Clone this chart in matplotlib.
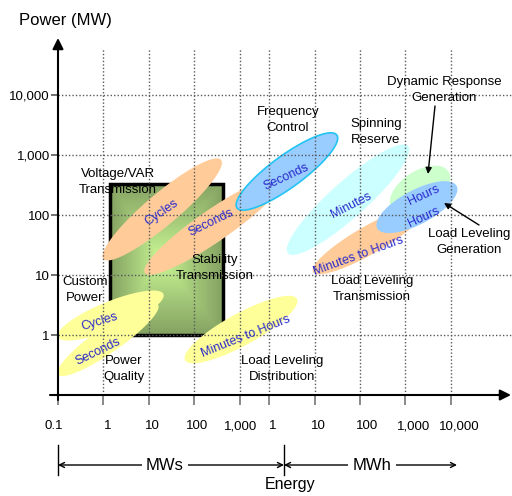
import numpy as np
import matplotlib
matplotlib.use("Agg")
import matplotlib.pyplot as plt
from matplotlib.patches import Polygon, Rectangle
import matplotlib.transforms as mtransforms

plt.rcParams['font.family'] = ['Liberation Sans', 'DejaVu Sans']

# ---------------- data ----------------
power_ticks = [1, 10, 100, 1000, 10000]
power_tick_labels = ['1', '10', '100', '1,000', '10,000']
energy_ticks = [(0.1, 'MWs'), (1, 'MWs'), (10, 'MWs'), (100, 'MWs'), (1000, 'MWs'),
                (1, 'MWh'), (10, 'MWh'), (100, 'MWh'), (1000, 'MWh'), (10000, 'MWh')]
energy_tick_labels = ['0.1', '1', '10', '100', '1,000', '1', '10', '100', '1,000', '10,000']

# duration bands: (energy, unit) and power (MW) at both ends of each band
band_labels = ['Seconds', 'Cycles', 'Cycles', 'Seconds', 'Minutes to Hours',
               'Seconds', 'Minutes', 'Minutes to Hours', 'Hours', 'Hours']
band_e0 = [(0.1, 'MWs'), (0.1, 'MWs'), (1.0, 'MWs'), (8.2, 'MWs'), (63, 'MWs'),
           (880, 'MWs'), (2.6, 'MWh'), (9.3, 'MWh'), (500, 'MWh'), (240, 'MWh')]
band_p0 = [0.22, 0.93, 18.5, 10.8, 0.38, 131, 23, 11.2, 128, 60]
band_e1 = [(16, 'MWs'), (21, 'MWs'), (390, 'MWs'), (2.0, 'MWh'), (4.1, 'MWh'),
           (31, 'MWh'), (1150, 'MWh'), (2700, 'MWh'), (8900, 'MWh'), (13500, 'MWh')]
band_p1 = [3.2, 4.8, 830, 414, 4.0, 2150, 1410, 131, 530, 305]

# stability transmission box
box_energy = [(1.4, 'MWs'), (430, 'MWs')]
box_power = [1, 330]

app_labels = ['Voltage/VAR\nTransmission', 'Custom\nPower', 'Power\nQuality',
              'Stability\nTransmission', 'Load Leveling\nDistribution',
              'Frequency\nControl', 'Spinning\nReserve',
              'Dynamic Response\nGeneration', 'Load Leveling\nTransmission',
              'Load Leveling\nGeneration']

# ---------------- styles / layout ----------------
band_colors = ['#ffff99', '#ffff99', '#ffcc99', '#ffcc99', '#ffff99',
               '#99ccff', '#ccffff', '#ffcc99', '#ccffcc', '#99ccff']
band_thick = [26, 28, 32, 32, 32, 32, 36, 28, 38, 34]
band_text_px = [(98, 352), (100, 322), (162, 213), (211, 223), (246, 336),
                (286, 177), (351, 205), (359, 256), (424, 195), (424, 217)]
band_text_rot = [26, 17, 34, 26, 22, 25, 27, 20, 25, 25]
app_text_px = [(118, 182), (85, 290), (124, 369), (215, 268), (282, 369),
               (288, 120), (376, 132), (444, 90), (372, 289), (469, 242)]

MWH_POS = 4.65  # axis position of 1 MWh (decades from 0.1 MWs)


def xpos(value, unit):
    return np.log10(value) + (1.0 if unit == 'MWs' else MWH_POS)


def ypos(p):
    return np.log10(p) + 1.0


def pix(px, py):
    return ((px - 58) / 45.4, (395 - py) / 60.0)


fig = plt.figure(figsize=(5.12, 4.96), dpi=100)
ax = fig.add_axes([58 / 512, 101 / 496, 454 / 512, 357 / 496])
ax.set_xlim(0, 10.0)
ax.set_ylim(0, 5.95)
for s in ax.spines.values():
    s.set_visible(False)

# ticks
ax.set_xticks([xpos(v, u) for v, u in energy_ticks], energy_tick_labels)
ax.set_yticks([0] + [ypos(p) for p in power_ticks], [''] + power_tick_labels)
ax.tick_params(axis='x', direction='out', length=7.2, width=1.3, color='0.5',
               pad=11, labelsize=9.5)
ax.tick_params(axis='y', direction='out', length=4.8, width=1.3, color='0.4',
               pad=1.0, labelsize=9.5)
xoffs = [-4, 4, 4, 3, 1, 4, 4, 7, 8, 9]
for lbl, dx in zip(ax.get_xticklabels(), xoffs):
    lbl.set_transform(lbl.get_transform() +
                      mtransforms.ScaledTranslation(dx / 100, 0, fig.dpi_scale_trans))

# grid (drawn on top of fills)
gtop = pix(0, 48)[1]
for v, u in energy_ticks[1:]:
    ax.plot([xpos(v, u)] * 2, [0, gtop], ls=(0, (1, 1.5)), lw=1, color='0.35', zorder=5)
for p in power_ticks:
    ax.plot([0, 10.0], [ypos(p)] * 2, ls=(0, (1, 1.5)), lw=1, color='0.35', zorder=5)

# stability box with centre gradient
u1, u2 = xpos(*box_energy[0]), xpos(*box_energy[1])
v1, v2 = ypos(box_power[0]), ypos(box_power[1])
n = 240
X, Y = np.meshgrid(np.linspace(-1, 1, n), np.linspace(-1, 1, n))
cx = -0.1
tx = np.where(X > cx, (X - cx) / (1 - cx), (cx - X) / (1 + cx))
t = np.clip(np.maximum(tx, np.abs(Y)), 0, 1) ** 0.9
c_in = np.array([204, 250, 150]) / 255
c_out = np.array([132, 162, 98]) / 255
img = c_in[None, None, :] * (1 - t[..., None]) + c_out[None, None, :] * t[..., None]
ax.imshow(img, extent=(u1, u2, v1, v2), origin='lower', aspect='auto',
          interpolation='bilinear', zorder=1)
ax.add_patch(Rectangle((u1, v1), u2 - u1, v2 - v1, fill=False, ec='black', lw=2.5, zorder=1.5))

# bands as ellipses spanning from start to end
tt = np.linspace(0, 2 * np.pi, 240)
for i in range(len(band_labels)):
    A = ax.transData.transform((xpos(*band_e0[i]), ypos(band_p0[i])))
    B = ax.transData.transform((xpos(*band_e1[i]), ypos(band_p1[i])))
    c = (A + B) / 2
    d = B - A
    L = np.hypot(*d)
    e1 = d / L
    e2 = np.array([-e1[1], e1[0]])
    a = L / 2
    b = band_thick[i] / 2 * fig.dpi / 100
    pts = c[None, :] + (a * np.cos(tt))[:, None] * e1[None, :] + (b * np.sin(tt))[:, None] * e2[None, :]
    data = ax.transData.inverted().transform(pts)
    ec = '#22c4f4' if i == 5 else 'none'
    ax.add_patch(Polygon(data, closed=True, fc=band_colors[i], ec=ec, lw=1.2, zorder=2 + i * 0.1))
    ax.text(*pix(*band_text_px[i]), band_labels[i], color='#2a2acc', fontsize=9,
            rotation=band_text_rot[i], rotation_mode='anchor', ha='center', va='center',
            zorder=7)

# application labels
for lab, (px, py) in zip(app_labels, app_text_px):
    ax.text(*pix(px, py), lab, fontsize=9.5, ha='center', va='center',
            multialignment='center', linespacing=1.45, zorder=7, clip_on=False)

# pointer arrows
ax.annotate('', xy=pix(428, 174), xytext=pix(435, 106),
            arrowprops=dict(arrowstyle='-|>', lw=1, color='black', mutation_scale=9,
                            shrinkA=0, shrinkB=0), zorder=7)
ax.annotate('', xy=pix(444, 203), xytext=pix(479, 225),
            arrowprops=dict(arrowstyle='-|>', lw=1, color='black', mutation_scale=9,
                            shrinkA=0, shrinkB=0), zorder=7)

# axes with arrows
ax.annotate('', xy=(0, 5.95), xytext=(0, pix(0, 400)[1]), annotation_clip=False,
            arrowprops=dict(arrowstyle='-|>', lw=1.5, color='black', mutation_scale=16,
                            shrinkA=0, shrinkB=0), zorder=8)
ax.annotate('', xy=(pix(511, 0)[0], 0), xytext=(pix(50, 0)[0], 0), annotation_clip=False,
            arrowprops=dict(arrowstyle='-|>', lw=1.5, color='black', mutation_scale=16,
                            shrinkA=0, shrinkB=0), zorder=8)

ax.text(*pix(65, 20), 'Power (MW)', fontsize=12, ha='center', va='center', clip_on=False)

# energy bracket
yb = pix(0, 465)[1]
for px in (58, 284):
    xx = pix(px, 0)[0]
    ax.plot([xx, xx], [pix(0, 445)[1], pix(0, 475)[1]], color='black', lw=1, clip_on=False)
for (pa, pb, lab, pt) in [(58, 284, 'MWs', 165), (284, 457, 'MWh', 372)]:
    ax.annotate('', xy=(pix(pa, 0)[0], yb), xytext=(pix(pb, 0)[0], yb), annotation_clip=False,
                arrowprops=dict(arrowstyle='<->', lw=1, color='black', mutation_scale=9,
                                shrinkA=0, shrinkB=0))
    ax.text(pix(pt, 0)[0], yb, lab, fontsize=12, ha='center', va='center', clip_on=False,
            bbox=dict(fc='white', ec='none', pad=3), zorder=9)
ax.text(*pix(290, 485), 'Energy', fontsize=11.5, ha='center', va='center', clip_on=False)

fig.savefig('out.png', dpi=100)
